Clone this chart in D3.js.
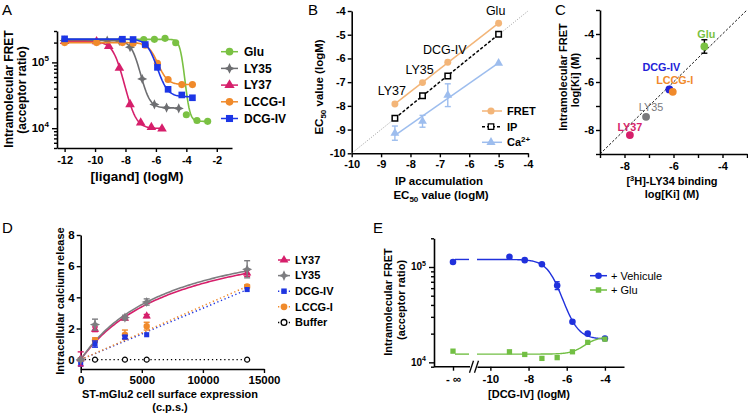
<!DOCTYPE html>
<html>
<head>
<meta charset="utf-8">
<script src="https://cdn.jsdelivr.net/npm/d3@7"></script>
<style>
  body { margin: 0; background: #fff; }
  svg { display: block; }
</style>
</head>
<body>
<svg id="fig" width="748" height="414"></svg>
<script>
// ---------- A: intramolecular FRET vs [ligand] ----------
const aNames  = ['Glu', 'LY35', 'LY37', 'LCCG-I', 'DCG-IV'];
const aGluX   = [-12, -6.8, -6.1, -5.4, -4.7, -4.0, -3.3, -2.6];
const aGluY   = [216000, 223000, 224000, 232000, 199000, 16000, 13100, 12700];
const aLY35X  = [-12, -9.2, -8.4, -7.7, -6.9, -6.1, -5.3, -4.5];
const aLY35Y  = [215000, 214000, 212000, 170000, 56000, 23000, 20500, 20000];
const aLY37X  = [-12, -9.9, -9.1, -8.4, -7.7, -7.0, -6.3, -5.6];
const aLY37Y  = [210000, 208000, 176000, 82000, 23000, 12100, 10300, 9800];
const aLCCGX  = [-12, -9.9, -8.2, -7.5, -6.7, -5.9, -5.2, -4.3, -3.6];
const aLCCGY  = [200000, 200000, 200000, 196000, 182000, 97000, 55000, 46000, 46000];
const aDCGX   = [-12, -8.2, -7.5, -6.7, -5.9, -5.2, -4.3, -3.6];
const aDCGY   = [228000, 225000, 223000, 187000, 84000, 39000, 32000, 29000];
// fitted curves (same order as aNames)
const aTop    = [224000, 215000, 207000, 200000, 226000];
const aBottom = [12700, 20300, 9900, 46000, 30000];
const aLogEC  = [-4.3, -7.34, -8.56, -6.1, -6.24];
const aHill   = [3, 1.53, 1.31, 1.4, 1.34];
const aTicksX = [-12, -10, -8, -6, -4, -2];

// ---------- B: EC50 comparison ----------
const bLabels = ['LY37', 'LY35', 'DCG-IV', 'Glu'];
const bIP     = [-8.53, -7.59, -6.73, -5.0];
const bFRET   = [-7.92, -7.02, -6.16, -4.52];
const bIPy    = [-8.52, -7.57, -6.74, -4.98];
const bCa     = [-9.15, -8.65, -7.55, -6.2];
const bCaErr  = [0.3, 0.25, 0.48, 0];
const bTicks  = [-10, -9, -8, -7, -6, -5, -4];

// ---------- C: Ki comparison ----------
const cNames  = ['Glu', 'DCG-IV', 'LCCG-I', 'LY35', 'LY37'];
const cBind   = [-4.74, -6.17, -6.03, -7.12, -7.78];
const cFret   = [-4.52, -6.31, -6.41, -7.45, -8.21];
const cErr    = [0.28, 0, 0, 0, 0];
const cTicks  = [-9, -8, -7, -6, -5, -4, -3];

// ---------- D: calcium release vs surface expression ----------
const dNames  = ['LY37', 'LY35', 'DCG-IV', 'LCCG-I', 'Buffer'];
const dX      = [0, 1170, 3620, 5400, 13620];
const dLY37   = [0.05, 1.95, 2.65, 2.8, 5.55];
const dLY37E  = [0.45, 0.15, 0.1, 0.1, 0.2];
const dLY35   = [0, 2.25, 2.7, 3.7, 5.8];
const dLY35E  = [0.1, 0.35, 0.15, 0.2, 0.55];
const dDCG    = [-0.3, 1.0, 1.45, 1.6, 4.5];
const dDCGE   = [0.05, 0.2, 0.1, 0.05, 0.05];
const dLCCG   = [0, 1.25, 1.6, 2.15, 4.7];
const dLCCGE  = [0, 0.15, 0.3, 0.25, 0.1];
const dBuffer = [0, 0, 0, 0, 0];
// hyperbolic fits (Bmax, K) for LY37 / LY35, linear slopes for DCG-IV / LCCG-I
const dBmax   = [8.8, 8.84];
const dK      = [7983, 7508];
const dSlope  = [3.3e-4, 3.45e-4];

// ---------- E: DCG-IV with / without Glu ----------
const eX       = [-9, -8.2, -7.3, -6.5, -5.7, -4.9, -4.0];
const eVehInf  = 113000;
const eVeh     = [128000, 118000, 107000, 64000, 26700, 20000, 17800];
const eVehErr  = [0, 0, 0, 6000, 0, 0, 0];
const eGluInf  = 13100;
const eGlu     = [12900, 12100, 11000, 11200, 12900, 16200, 17500];
const eFitTop  = [120000, 12200];
const eFitBot  = [17500, 18500];
const eFitEC   = [-6.59, -5.0];
const eFitHill = [1.1, 1.2];
const eTicks   = [-10, -8, -6, -4];

// ---------------------------------------------------------------
const FONT = '"Liberation Sans", Arial, Helvetica, sans-serif';
const svg = d3.select('#fig').attr('font-family', FONT);
svg.append('rect').attr('width', 748).attr('height', 414).attr('fill', '#fff');
const plain = d => String(d);

const star4 = {
  draw(ctx, size) {
    const r = Math.sqrt(size) * 0.8, q = r * 0.32;
    ctx.moveTo(0, -r); ctx.lineTo(q, -q); ctx.lineTo(r, 0); ctx.lineTo(q, q);
    ctx.lineTo(0, r); ctx.lineTo(-q, q); ctx.lineTo(-r, 0); ctx.lineTo(-q, -q); ctx.closePath();
  }
};
const SYM = { circle: d3.symbolCircle, square: d3.symbolSquare, triangle: d3.symbolTriangle, star: star4 };

function marker(g, x, y, shape, size, fill, stroke, sw) {
  g.append('path')
    .attr('d', d3.symbol(SYM[shape], size)())
    .attr('transform', `translate(${x},${y})`)
    .attr('fill', fill)
    .attr('stroke', stroke || 'none')
    .attr('stroke-width', sw || 1);
}

function styleAxis(ax, fs) {
  ax.attr('font-family', FONT).attr('font-size', fs).attr('font-weight', 'bold');
  ax.select('.domain').attr('stroke-width', 1.6);
  ax.selectAll('.tick line').attr('stroke-width', 1.4);
}

function sigmoid(top, bottom, c, h) {
  return x => bottom + (top - bottom) / (1 + Math.pow(10, (x - c) * h));
}

function sampleX(x0, x1, n) {
  return d3.range(n + 1).map(i => x0 + (x1 - x0) * i / n);
}

function logAxisLeft(g, y, x0, fs) {
  const [lo, hi] = y.domain(), vals = [];
  for (let e = Math.floor(Math.log10(lo)); e <= Math.ceil(Math.log10(hi)); e++) {
    for (let m = 1; m < 10; m++) {
      const v = m * Math.pow(10, e);
      if (v >= lo * 0.999 && v <= hi * 1.001) vals.push(v);
    }
  }
  const ax = g.append('g').attr('transform', `translate(${x0},0)`)
    .call(d3.axisLeft(y).tickValues(vals).tickFormat('').tickSizeOuter(0));
  styleAxis(ax, fs);
  ax.selectAll('.tick line').attr('x2', d => Math.abs(Math.log10(d) % 1) < 1e-9 ? -5 : -3);
  vals.filter(v => Math.abs(Math.log10(v) % 1) < 1e-9).forEach(v => {
    const t = g.append('text').attr('x', x0 - 8).attr('y', y(v)).attr('dy', '0.35em')
      .attr('text-anchor', 'end').attr('font-size', fs).attr('font-weight', 'bold');
    t.append('tspan').text('10');
    t.append('tspan').attr('dy', -fs * 0.45).attr('font-size', fs * 0.7).text(Math.round(Math.log10(v)));
  });
}

function rotLabel(g, x, y, txt, fs, weight) {
  return g.append('text').attr('transform', `translate(${x},${y}) rotate(-90)`)
    .attr('text-anchor', 'middle').attr('dy', '0.35em')
    .attr('font-size', fs).attr('font-weight', weight || 'bold').text(txt);
}

function label(g, x, y, txt, fs, weight, anchor, fill) {
  return g.append('text').attr('x', x).attr('y', y)
    .attr('text-anchor', anchor || 'middle').attr('font-size', fs)
    .attr('font-weight', weight || 'bold').attr('fill', fill || '#000').text(txt);
}

function errBar(g, x, y0, y1, color, cap) {
  g.append('line').attr('x1', x).attr('x2', x).attr('y1', y0).attr('y2', y1)
    .attr('stroke', color).attr('stroke-width', 1.4);
  [y0, y1].forEach(yy => g.append('line').attr('x1', x - cap).attr('x2', x + cap)
    .attr('y1', yy).attr('y2', yy).attr('stroke', color).attr('stroke-width', 1.4));
}

function legendRow(g, x1, x2, xm, y, color, dash, shape, size, fill, stroke, txt, tx, fs, weight) {
  g.append('line').attr('x1', x1).attr('x2', x2).attr('y1', y).attr('y2', y)
    .attr('stroke', color).attr('stroke-width', 1.5).attr('stroke-dasharray', dash);
  marker(g, xm, y, shape, size, fill, stroke, 1.3);
  return g.append('text').attr('x', tx).attr('y', y).attr('dy', '0.35em')
    .attr('font-size', fs).attr('font-weight', weight).text(txt);
}

// ================= Panel A =================
(function() {
  const g = svg.append('g');
  const x = d3.scaleLinear().domain([-12.5, -1]).range([57, 232]);
  const y = d3.scaleLog().domain([5000, 300000]).range([148, 31]);
  const colors = ['#7ac143', '#6d6e71', '#d61f6b', '#f08a2b', '#1c36e6'];
  const shapes = ['circle', 'star', 'triangle', 'circle', 'square'];
  const sizes  = [40, 40, 40, 40, 44];
  const xs = [aGluX, aLY35X, aLY37X, aLCCGX, aDCGX];
  const ys = [aGluY, aLY35Y, aLY37Y, aLCCGY, aDCGY];

  const ax = g.append('g').attr('transform', 'translate(0,148)')
    .call(d3.axisBottom(x).tickValues(aTicksX).tickFormat(plain).tickSize(4).tickSizeOuter(0).tickPadding(4));
  styleAxis(ax, 11);
  logAxisLeft(g, y, 57, 11.5);

  const line = d3.line().x(d => x(d[0])).y(d => y(d[1]));
  aNames.forEach((n, i) => {
    const f = sigmoid(aTop[i], aBottom[i], aLogEC[i], aHill[i]);
    const pts = sampleX(-12, xs[i][xs[i].length - 1], 160).map(v => [v, f(v)]);
    g.append('path').attr('d', line(pts)).attr('fill', 'none')
      .attr('stroke', colors[i]).attr('stroke-width', 1.6);
    xs[i].forEach((v, j) => marker(g, x(v), y(ys[i][j]), shapes[i], sizes[i], colors[i]));
  });

  // legend
  aNames.forEach((n, i) => {
    legendRow(g, 221, 238, 229.5, 51.7 + i * 16.7, colors[i], null, shapes[i], sizes[i] + 6,
      colors[i], null, n, 244, 12, 'bold');
  });

  rotLabel(g, 9, 89, 'Intramolecular FRET', 12);
  rotLabel(g, 22, 90, '(acceptor ratio)', 12);
  label(g, 137, 181, '[ligand] (logM)', 13.5);
  label(g, 2, 15, 'A', 15, 'normal', 'start');
})();

// ================= Panel B =================
(function() {
  const g = svg.append('g');
  const x = d3.scaleLinear().domain([-10, -4]).range([351.7, 528]);
  const y = d3.scaleLinear().domain([-10, -4]).range([153.3, 11]);

  const ax = g.append('g').attr('transform', 'translate(0,153.3)')
    .call(d3.axisBottom(x).tickValues(bTicks).tickFormat(plain).tickSize(4).tickSizeOuter(0).tickPadding(3));
  styleAxis(ax, 11);
  const ay = g.append('g').attr('transform', 'translate(351.7,0)')
    .call(d3.axisLeft(y).tickValues(bTicks).tickFormat(plain).tickSize(4).tickSizeOuter(0).tickPadding(2));
  styleAxis(ay, 11);

  // identity line
  g.append('line').attr('x1', x(-10)).attr('y1', y(-10)).attr('x2', x(-4)).attr('y2', y(-4))
    .attr('stroke', '#888').attr('stroke-width', 0.8).attr('stroke-dasharray', '1,1.5');

  const series = [
    { ys: bFRET, color: '#f3b578', dash: null, shape: 'circle', fill: '#f3b578', stroke: null, size: 38 },
    { ys: bIPy, color: '#000', dash: '3,2', shape: 'square', fill: '#fff', stroke: '#000', size: 30 },
    { ys: bCa, color: '#9dbdee', dash: null, shape: 'triangle', fill: '#9dbdee', stroke: null, size: 34 }
  ];
  // least-squares line through each series
  series.forEach(s => {
    const mx = d3.mean(bIP), my = d3.mean(s.ys);
    const slope = d3.sum(bIP, (v, i) => (v - mx) * (s.ys[i] - my)) / d3.sum(bIP, v => (v - mx) ** 2);
    const x0 = d3.min(bIP), x1 = d3.max(bIP);
    g.append('line').attr('x1', x(x0)).attr('y1', y(my + slope * (x0 - mx)))
      .attr('x2', x(x1)).attr('y2', y(my + slope * (x1 - mx)))
      .attr('stroke', s.color).attr('stroke-width', 1.5).attr('stroke-dasharray', s.dash);
  });
  bIP.forEach((v, i) => {
    if (bCaErr[i]) errBar(g, x(v), y(bCa[i] - bCaErr[i]), y(bCa[i] + bCaErr[i]), '#9dbdee', 3);
  });
  series.forEach(s => bIP.forEach((v, i) =>
    marker(g, x(v), y(s.ys[i]), s.shape, s.size, s.fill, s.stroke, 1.5)));

  bLabels.forEach((t, i) => label(g, x(bIP[i]) - 3, y(bFRET[i]) - 8.5, t, 12.5, 'normal'));

  legendRow(g, 482, 502, 491, 111, '#f3b578', null, 'circle', 40, '#f3b578', null, 'FRET', 507, 11, 'bold');
  legendRow(g, 482, 502, 491, 126.7, '#000', '3,2', 'square', 30, '#fff', '#000', 'IP', 507, 11, 'bold');
  const ca = legendRow(g, 482, 502, 491, 142.3, '#9dbdee', null, 'triangle', 36, '#9dbdee', null, 'Ca', 507, 11, 'bold');
  ca.append('tspan').attr('dy', -4).attr('font-size', 8).text('2+');

  const yl = g.append('text').attr('transform', 'translate(319,87) rotate(-90)')
    .attr('text-anchor', 'middle').attr('dy', '0.35em').attr('font-size', 11.5).attr('font-weight', 'bold');
  yl.append('tspan').text('EC');
  yl.append('tspan').attr('dy', 3).attr('font-size', 8).text('50');
  yl.append('tspan').attr('dy', -3).text(' value (logM)');

  label(g, 439, 185, 'IP accumulation', 11.5);
  const xl = g.append('text').attr('x', 441).attr('y', 198.5).attr('text-anchor', 'middle')
    .attr('font-size', 11.5).attr('font-weight', 'bold');
  xl.append('tspan').text('EC');
  xl.append('tspan').attr('dy', 3).attr('font-size', 8).text('50');
  xl.append('tspan').attr('dy', -3).text(' value (logM)');
  label(g, 308, 15, 'B', 15, 'normal', 'start');
})();

// ================= Panel C =================
(function() {
  const g = svg.append('g');
  const x = d3.scaleLinear().domain([-9, -3]).range([600, 747]);
  const y = d3.scaleLinear().domain([-9, -3]).range([154, 10]);
  const fmt = d => (d % 2 === 0 ? String(d) : '');
  const ax = g.append('g').attr('transform', 'translate(0,154)')
    .call(d3.axisBottom(x).tickValues(cTicks).tickFormat(fmt).tickSize(4).tickSizeOuter(0).tickPadding(4));
  styleAxis(ax, 11);
  const ay = g.append('g').attr('transform', 'translate(600,0)')
    .call(d3.axisLeft(y).tickValues(cTicks).tickFormat(fmt).tickSize(4).tickSizeOuter(0).tickPadding(2));
  styleAxis(ay, 11);

  g.append('line').attr('x1', x(-9)).attr('y1', y(-9)).attr('x2', x(-3)).attr('y2', y(-3))
    .attr('stroke', '#000').attr('stroke-width', 0.9).attr('stroke-dasharray', '2.5,1.8');

  const colors = ['#7ac143', '#2222d8', '#f08a2b', '#7a7a7c', '#d61f6b'];
  const weights = ['bold', 'bold', 'bold', 'normal', 'bold'];
  const offs = [[2, -8], [-8, -18.5], [2, -8], [5, -5.5], [0, -4.5]];
  cNames.forEach((n, i) => {
    if (cErr[i]) errBar(g, x(cBind[i]), y(cFret[i] - cErr[i]), y(cFret[i] + cErr[i]), '#000', 3);
    marker(g, x(cBind[i]), y(cFret[i]), 'circle', 48, colors[i]);
    label(g, x(cBind[i]) + offs[i][0], y(cFret[i]) + offs[i][1], n, 10.8, weights[i], 'middle', colors[i]);
  });

  rotLabel(g, 563.5, 77, 'Intramolecular FRET', 11);
  rotLabel(g, 575, 80, 'log[Ki] (M)', 11);
  const xl = g.append('text').attr('x', 672).attr('y', 185).attr('text-anchor', 'middle')
    .attr('font-size', 11).attr('font-weight', 'bold');
  xl.append('tspan').text('[');
  xl.append('tspan').attr('dy', -4).attr('font-size', 7.5).text('3');
  xl.append('tspan').attr('dy', 4).text('H]-LY34 binding');
  label(g, 672, 198, 'log[Ki] (M)', 11);
  label(g, 555, 14.5, 'C', 15, 'normal', 'start');
})();

// ================= Panel D =================
(function() {
  const g = svg.append('g');
  const x = d3.scaleLinear().domain([0, 15000]).range([80.7, 264]);
  const y = d3.scaleLinear().domain([-0.6, 8]).range([369, 235]);

  const ax = g.append('g').attr('transform', 'translate(0,369)')
    .call(d3.axisBottom(x).tickValues([0, 5000, 10000, 15000]).tickFormat(plain)
      .tickSize(4).tickSizeOuter(0).tickPadding(3));
  styleAxis(ax, 11.5);
  const ay = g.append('g').attr('transform', 'translate(80.7,0)')
    .call(d3.axisLeft(y).tickValues([0, 2, 4, 6, 8]).tickFormat(plain).tickSize(4).tickSizeOuter(0).tickPadding(2));
  styleAxis(ay, 11.5);

  const colors = ['#d61f6b', '#7d7d80', '#1f35e0', '#f08a2b', '#000'];
  const shapes = ['triangle', 'star', 'square', 'circle', 'circle'];
  const sizes  = [30, 40, 26, 32, 22];
  const vals = [dLY37, dLY35, dDCG, dLCCG, dBuffer];
  const errs = [dLY37E, dLY35E, dDCGE, dLCCGE, null];
  const line = d3.line().x(d => x(d[0])).y(d => y(d[1]));
  const xmax = d3.max(dX);

  // fitted lines
  [0, 1].forEach(i => {
    const pts = sampleX(0, xmax, 80).map(v => [v, dBmax[i] * v / (dK[i] + v)]);
    g.append('path').attr('d', line(pts)).attr('fill', 'none')
      .attr('stroke', colors[i]).attr('stroke-width', 1.6);
  });
  [2, 3].forEach((i, k) => {
    g.append('path').attr('d', line([[0, 0], [xmax, dSlope[k] * xmax]])).attr('fill', 'none')
      .attr('stroke', colors[i]).attr('stroke-width', 1.5).attr('stroke-dasharray', '1.3,2.6');
  });
  g.append('path').attr('d', line([[0, 0], [xmax, 0]])).attr('fill', 'none')
    .attr('stroke', '#000').attr('stroke-width', 1.4).attr('stroke-dasharray', '1.3,2.8');

  [4, 3, 2, 0, 1].forEach(i => {
    dX.forEach((v, j) => {
      if (errs[i] && errs[i][j] > 0.08)
        errBar(g, x(v), y(vals[i][j] - errs[i][j]), y(vals[i][j] + errs[i][j]), colors[i], 3);
      if (i === 4) marker(g, x(v), y(vals[i][j]), 'circle', 20, '#fff', '#000', 1.2);
      else marker(g, x(v), y(vals[i][j]), shapes[i], sizes[i], colors[i]);
    });
  });

  dNames.forEach((n, i) => {
    const dash = i < 2 ? null : '1.3,2.3';
    legendRow(g, 278, 290, 284, 260 + i * 15.6, colors[i], dash, shapes[i], sizes[i] + 4,
      i === 4 ? '#fff' : colors[i], i === 4 ? '#000' : null, n, 295, 11, 'bold');
  });

  rotLabel(g, 60, 301, 'Intracellular calcium release', 11);
  label(g, 170, 398, 'ST-mGlu2 cell surface expression', 11);
  label(g, 170, 411, '(c.p.s.)', 11);
  label(g, 2, 233, 'D', 15, 'normal', 'start');
})();

// ================= Panel E =================
(function() {
  const g = svg.append('g');
  const x = d3.scaleLinear().domain([-10.7, -3]).range([477, 624]);
  const xInf = d3.scalePoint().domain(['- \u221e']).range([434, 472]).padding(0.5);
  const y = d3.scaleLog().domain([9000, 200000]).range([366.7, 238.3]);
  const Y0 = 366.7;

  const ax = g.append('g').attr('transform', `translate(0,${Y0})`)
    .call(d3.axisBottom(x).tickValues(eTicks).tickFormat(plain).tickSize(4).tickSizeOuter(0).tickPadding(4));
  styleAxis(ax, 11.5);
  const ax2 = g.append('g').attr('transform', `translate(0,${Y0})`)
    .call(d3.axisBottom(xInf).tickSize(4).tickSizeOuter(0).tickPadding(4));
  styleAxis(ax2, 11.5);
  ax2.select('.domain').attr('d', 'M434,0H470');
  // axis break marks
  [[469.5, 473.5], [474.5, 478.5]].forEach(([a, b]) =>
    g.append('line').attr('x1', a).attr('y1', Y0 + 6).attr('x2', b).attr('y2', Y0 - 6)
      .attr('stroke', '#000').attr('stroke-width', 1.3));
  logAxisLeft(g, y, 434, 10);

  const colors = ['#2031dc', '#72bf44'];
  const shapes = ['circle', 'square'];
  const infs = [eVehInf, eGluInf];
  const vals = [eVeh, eGlu];
  const line = d3.line().x(d => x(d[0])).y(d => y(d[1]));
  [0, 1].forEach(i => {
    const f = sigmoid(eFitTop[i], eFitBot[i], eFitEC[i], eFitHill[i]);
    const pts = sampleX(-10.7, -4, 160).map(v => [v, f(v)]);
    g.append('path').attr('d', line(pts)).attr('fill', 'none')
      .attr('stroke', colors[i]).attr('stroke-width', 1.4);
    g.append('line').attr('x1', xInf('- \u221e') + 2).attr('x2', 469)
      .attr('y1', y(eFitTop[i])).attr('y2', y(eFitTop[i]))
      .attr('stroke', colors[i]).attr('stroke-width', 1.4);
    marker(g, xInf('- \u221e'), y(infs[i]), shapes[i], i ? 28 : 34, colors[i]);
    eX.forEach((v, j) => {
      if (i === 0 && eVehErr[j]) errBar(g, x(v), y(vals[i][j] - eVehErr[j]), y(vals[i][j] + eVehErr[j]), colors[i], 2.5);
      marker(g, x(v), y(vals[i][j]), shapes[i], i ? 28 : 34, colors[i]);
    });
  });

  legendRow(g, 590, 607, 598.5, 275.7, colors[0], null, 'circle', 34, colors[0], null, '+ Vehicule', 611, 11, 'normal');
  legendRow(g, 590, 607, 598.5, 290, colors[1], null, 'square', 30, colors[1], null, '+ Glu', 611, 11, 'normal');

  rotLabel(g, 388.5, 302, 'Intramolecular FRET', 11);
  rotLabel(g, 401.5, 300, '(acceptor ratio)', 11);
  label(g, 529, 398, '[DCG-IV] (logM)', 11);
  label(g, 373, 233, 'E', 15, 'normal', 'start');
})();
</script>
</body>
</html>
